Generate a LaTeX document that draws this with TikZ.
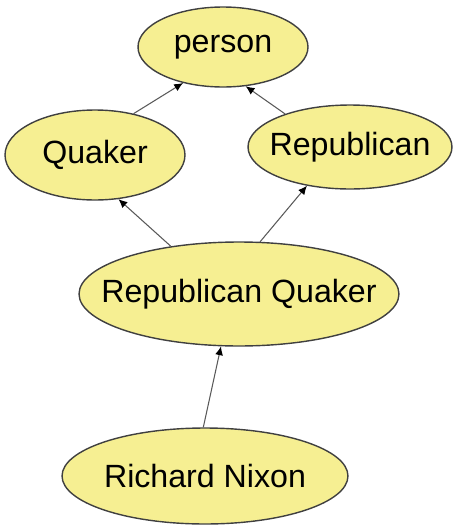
\documentclass[tikz,border=0pt]{standalone}
\usepackage{fontspec}
\setmainfont{Liberation Sans}
\usepackage{tikz}
\usetikzlibrary{shapes,arrows.meta,positioning}
\definecolor{nodefill}{RGB}{246,239,146}
\tikzset{
  concept/.style={ellipse, draw=black!75, line width=0.8pt, fill=nodefill, inner sep=0pt},
  isa/.style={-{Latex[black,length=5pt,width=4.5pt]}, draw=black!65, line width=0.6pt},
  every label/.style={font=\fontsize{18.3}{22}\selectfont}
}

\begin{document}
\begin{tikzpicture}[x=0.02cm, y=-0.02cm]
    \useasboundingbox (0,0) rectangle (457,531);
    \node[concept, minimum width=3.4cm, minimum height=1.6cm, label=center:person] (person) at (223,47) {};
    \node[concept, minimum width=3.6cm, minimum height=1.8cm, label=center:Quaker] (quaker) at (95,155) {};
    \node[concept, minimum width=4.08cm, minimum height=1.68cm, label=center:Republican] (republican) at (350,147) {};
    \node[concept, minimum width=6.4cm, minimum height=2.08cm, label=center:Republican Quaker] (repquaker) at (239,294) {};
    \node[concept, minimum width=5.72cm, minimum height=1.92cm, label=center:Richard Nixon] (nixon) at (205,476) {};

    \draw[isa] (quaker.47) -- (person.222);
    \draw[isa] (republican.153) -- (person.300);
    \draw[isa] (repquaker.145) -- (quaker.298);
    \draw[isa] (repquaker.68) -- (republican.222);
    \draw[isa] (nixon.92) -- (repquaker.251);
\end{tikzpicture}
\end{document}
